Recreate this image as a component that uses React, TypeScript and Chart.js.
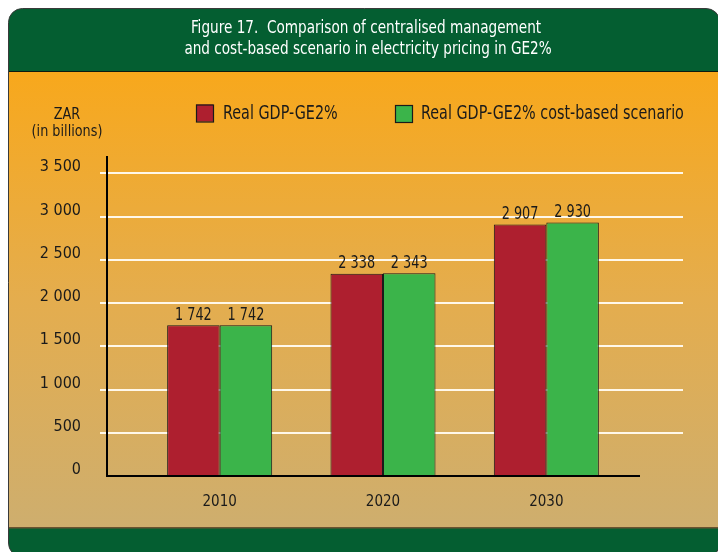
import React, { useEffect, useRef } from "react";
import { Chart, registerables } from "chart.js";

Chart.register(...registerables);

const categories = ["2010", "2020", "2030"];
const seriesNames = ["Real GDP-GE2%", "Real GDP-GE2% cost-based scenario"];
const realGdp = [1742, 2338, 2907];
const costBased = [1742, 2343, 2930];
const yTicks = [0, 500, 1000, 1500, 2000, 2500, 3000, 3500];
const titleLines = [
  "Figure 17.  Comparison of centralised management",
  "and cost-based scenario in electricity pricing in GE2%",
];
const yTitleLines = ["ZAR", "(in billions)"];

const FONT = "'Liberation Sans Narrow', 'DejaVu Sans Condensed', 'Roboto Condensed', 'Liberation Sans', sans-serif";
const RED = "#AE1F2F";
const GREEN = "#3BB44A";
const DARK_GREEN = "#045E31";
const INK = "#1a1a1a";

const fmt = (v: number) => String(v).replace(/\B(?=(\d{3})+(?!\d))/g, " ");

function drawText(
  ctx: CanvasRenderingContext2D,
  text: string,
  x: number,
  y: number,
  size: number,
  sx: number,
  align: CanvasTextAlign
) {
  ctx.save();
  ctx.font = `${size}px ${FONT}`;
  ctx.textAlign = align;
  ctx.textBaseline = "middle";
  ctx.translate(x, y);
  ctx.scale(sx, 1);
  ctx.fillText(text, 0, 0);
  ctx.restore();
}

const framePlugin = {
  id: "frame",
  beforeDraw(chart: any) {
    const ctx = chart.ctx as CanvasRenderingContext2D;
    const W = chart.width;
    ctx.save();
    ctx.fillStyle = "#ffffff";
    ctx.fillRect(0, 0, W, chart.height);
    // card
    const x0 = 8.5, y0 = 8.5, x1 = 720, y1 = 557, r = 14;
    ctx.beginPath();
    ctx.roundRect(x0, y0, x1 - x0, y1 - y0, r);
    ctx.save();
    ctx.clip();
    ctx.fillStyle = DARK_GREEN;
    ctx.fillRect(0, 0, W, 72);
    const g = ctx.createLinearGradient(0, 72, 0, 527);
    g.addColorStop(0, "#F8A81C");
    g.addColorStop(0.5, "#E4AD4E");
    g.addColorStop(1, "#CEAE6E");
    ctx.fillStyle = g;
    ctx.fillRect(0, 72, W, 455);
    ctx.fillStyle = DARK_GREEN;
    ctx.fillRect(0, 527, W, 40);
    ctx.fillStyle = "#0d1a10";
    ctx.fillRect(0, 71, W, 1);
    ctx.fillStyle = "#6a5230";
    ctx.fillRect(0, 527, W, 1.5);
    ctx.restore();
    ctx.lineWidth = 1;
    ctx.strokeStyle = "#3a3a3a";
    ctx.stroke();
    // title
    ctx.fillStyle = "#ffffff";
    drawText(ctx, titleLines[0], 366, 29, 17, 0.89, "center");
    drawText(ctx, titleLines[1], 368, 50, 17, 0.89, "center");
    // y title
    ctx.fillStyle = INK;
    drawText(ctx, yTitleLines[0], 67, 115, 15, 0.95, "center");
    drawText(ctx, yTitleLines[1], 67, 132, 15, 0.95, "center");
    // legend
    const ds = chart.data.datasets;
    const legendBoxes = [
      { x: 196, y: 104.5, tx: 223 },
      { x: 395, y: 105, tx: 421 },
    ];
    ds.forEach((d: any, i: number) => {
      const b = legendBoxes[i];
      ctx.fillStyle = d.backgroundColor;
      ctx.fillRect(b.x, b.y, 17, 17);
      ctx.strokeStyle = INK;
      ctx.lineWidth = 1.2;
      ctx.strokeRect(b.x + 0.5, b.y + 0.5, 17, 17);
      ctx.fillStyle = INK;
      drawText(ctx, d.label, b.tx, 114, 19, 0.84, "left");
    });
    ctx.restore();
  },
  beforeDatasetsDraw(chart: any) {
    const ctx = chart.ctx as CanvasRenderingContext2D;
    const y = chart.scales.y;
    ctx.save();
    ctx.strokeStyle = "#FFF8EA";
    ctx.lineWidth = 2;
    yTicks.forEach((v) => {
      if (v === 0) return;
      const py = Math.round(y.getPixelForValue(v));
      ctx.beginPath();
      ctx.moveTo(100, py);
      ctx.lineTo(683, py);
      ctx.stroke();
    });
    ctx.restore();
  },
  afterDatasetsDraw(chart: any) {
    const ctx = chart.ctx as CanvasRenderingContext2D;
    const y = chart.scales.y;
    const a = chart.chartArea;
    const y0 = y.getPixelForValue(0);
    ctx.save();
    ctx.strokeStyle = "#000";
    ctx.lineWidth = 2;
    ctx.beginPath();
    ctx.moveTo(107, a.top);
    ctx.lineTo(107, y0);
    ctx.lineTo(640, y0);
    ctx.stroke();
    // data labels
    ctx.fillStyle = INK;
    chart.data.datasets.forEach((d: any, di: number) => {
      const meta = chart.getDatasetMeta(di);
      meta.data.forEach((el: any, i: number) => {
        drawText(ctx, fmt(d.data[i]), el.x, el.y - 10, 17, 0.84, "center");
      });
    });
    ctx.restore();
  },
};

export default function App() {
  const ref = useRef<HTMLCanvasElement | null>(null);
  useEffect(() => {
    if (!ref.current) return;
    const chart = new Chart(ref.current, {
      type: "bar",
      data: {
        labels: categories,
        datasets: [
          {
            label: seriesNames[0],
            data: realGdp,
            backgroundColor: RED,
            borderColor: INK,
            borderWidth: 1,
            borderSkipped: "bottom",
            categoryPercentage: 0.643,
            barPercentage: 1,
          },
          {
            label: seriesNames[1],
            data: costBased,
            backgroundColor: GREEN,
            borderColor: INK,
            borderWidth: 1,
            borderSkipped: "bottom",
            categoryPercentage: 0.643,
            barPercentage: 1,
          },
        ],
      },
      options: {
        animation: false,
        responsive: false,
        devicePixelRatio: 1,
        layout: { padding: { top: 156, right: 90, left: 0, bottom: 0 } },
        plugins: {
          legend: { display: false },
          title: { display: false },
          tooltip: { enabled: false },
        },
        scales: {
          x: {
            type: "category",
            grid: { display: false, drawTicks: false },
            border: { display: false },
            ticks: { color: INK, font: { family: FONT, size: 15 }, padding: 17 },
            afterFit: (s: any) => {
              s.height = 76;
            },
          },
          y: {
            type: "linear",
            min: 0,
            max: 3700,
            grid: { display: false, drawTicks: false },
            border: { display: false },
            afterBuildTicks: (s: any) => {
              s.ticks = yTicks.map((value) => ({ value }));
            },
            ticks: {
              color: INK,
              font: { family: FONT, size: 16 },
              padding: 57,
              labelOffset: -6,
              callback: (v: any) => fmt(Number(v)),
            },
            afterFit: (s: any) => {
              s.width = 138;
            },
          },
        },
      },
      plugins: [framePlugin],
    });
    return () => chart.destroy();
  }, []);
  return (
    <div style={{ position: "fixed", left: 0, top: 0, width: 718, height: 552 }}>
      <canvas ref={ref} width={718} height={552} style={{ display: "block", width: 718, height: 552 }} />
    </div>
  );
}
